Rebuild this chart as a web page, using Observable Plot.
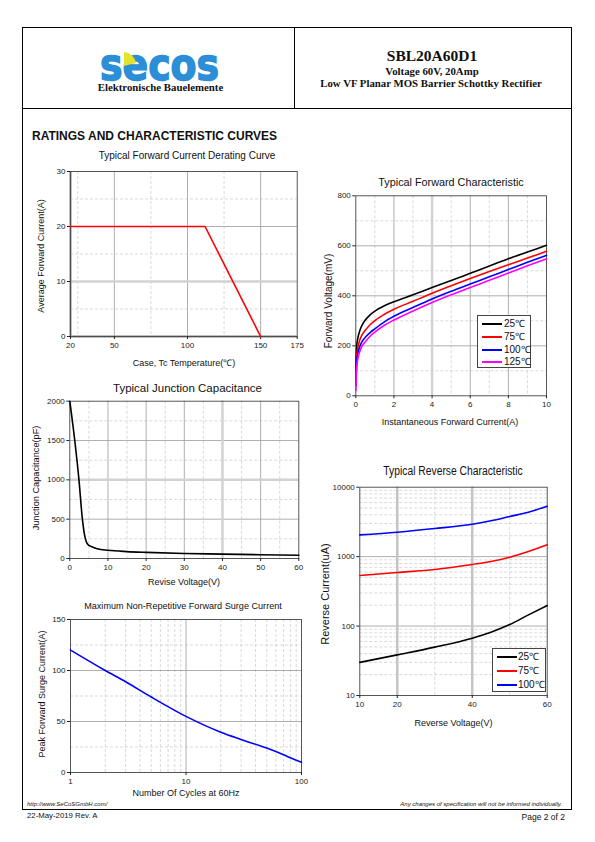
<!DOCTYPE html>
<html><head><meta charset="utf-8">
<script src="https://cdn.jsdelivr.net/npm/d3@7"></script>
<script src="https://cdn.jsdelivr.net/npm/@observablehq/plot@0.6"></script>
<style>
body{margin:0;background:#fff;}
#page{position:relative;width:595px;height:842px;overflow:hidden;font-family:"Liberation Sans",Arial,sans-serif;color:#111;}
.t{position:absolute;white-space:nowrap;line-height:1;}
.ln{position:absolute;background:#000;}
#logo{position:absolute;left:100px;top:52px;height:26px;line-height:26px;font-family:"DejaVu Sans";font-weight:bold;font-size:44px;color:#2b8ed6;-webkit-text-stroke:1.5px #2b8ed6;transform:scaleX(0.86);transform-origin:0 50%;white-space:nowrap;}
</style></head><body><div id="page"></div>
<script>
// ---------- data ----------
const deratingTemp = [20, 112, 150];
const deratingCurrent = [20, 20, 0];
const deratingXTicks = [20, 50, 100, 150, 175];
const deratingYTicks = [0, 10, 20, 30];

const fwdCurrent = [0.005,0.02,0.05,0.1,0.2,0.3,0.5,0.75,1,1.5,2,3,4,5,6,7,8,9,10];
const fwd25  = [105,150,200,228,258,278,303,324,339,360,376,404,433,461,490,519,548,575,602];
const fwd75  = [60,110,160,190,221,240,262,284,301,326,346,378,410,440,469,497,524,551,578];
const fwd100 = [40,85,135,165,195,213,234,253,268,296,318,353,387,418,447,476,505,534,562];
const fwd125 = [20,65,115,145,175,195,216,238,255,282,303,339,373,404,433,462,491,520,548];
const fwdLabels = ["25℃", "75℃", "100℃", "125℃"];
const fwdXTicks = [0, 2, 4, 6, 8, 10];
const fwdYTicks = [0, 200, 400, 600, 800];

const capVoltage = [0,1.3,2.4,3.3,3.9,4.3,4.7,5.4,7.2,10,15,20,30,40,50,60];
const capValue   = [2000,1500,1000,500,290,215,180,157,125,105,88,78,64,55,48,42];
const capXTicks = [0, 10, 20, 30, 40, 50, 60];
const capYTicks = [0, 500, 1000, 1500, 2000];

const revVoltage = [10,20,30,40,45,50,55,60];
const rev25  = [30,38.5,49.7,67,81.7,105,145,198];
const rev75  = [535,590,653,771,851,983,1186,1479];
const rev100 = [2060,2250,2540,2935,3280,3785,4370,5330];
const revLabels = ["25℃", "75℃", "100℃"];
const revXTicks = [10, 20, 40, 60];
const revYTicks = [10, 100, 1000, 10000];

const surgeCycles  = [1,2,3,5,10,20,30,50,70,80,90,100];
const surgeCurrent = [120,100,89,74,55,39.5,32.4,23.9,17.3,14.4,12,10];
const surgeXTicks = [1, 10, 100];
const surgeYTicks = [0, 50, 100, 150];

// ---------- helpers ----------
const page = document.getElementById("page");
const SANS = '"Liberation Sans", Arial, sans-serif';
const SERIF = '"Liberation Serif", "Times New Roman", serif';

function txt(s, x, y, o = {}) {
  const d = document.createElement("div");
  d.className = "t";
  d.textContent = s;
  d.style.left = x + "px"; d.style.top = y + "px";
  d.style.fontSize = (o.size || 9) + "px";
  d.style.fontFamily = o.family || SANS;
  if (o.weight) d.style.fontWeight = o.weight;
  if (o.italic) d.style.fontStyle = "italic";
  if (o.color) d.style.color = o.color;
  const ax = o.anchor === "start" ? "0" : o.anchor === "end" ? "-100%" : "-50%";
  if (o.anchor === "start") d.style.transformOrigin = "0 50%";
  if (o.anchor === "end") d.style.transformOrigin = "100% 50%";
  d.style.transform = `translate(${ax},-50%)` + (o.rotate ? ` rotate(${o.rotate}deg)` : "") + (o.sx ? ` scaleX(${o.sx})` : "");
  page.append(d);
  return d;
}
function line(x, y, w, h, color = "#000") {
  const d = document.createElement("div");
  d.className = "ln";
  Object.assign(d.style, {left: x + "px", top: y + "px", width: w + "px", height: h + "px", background: color});
  page.append(d);
}
function mount(svg, left, top) {
  svg.style.position = "absolute";
  svg.style.left = left + "px";
  svg.style.top = top + "px";
  page.append(svg);
}
function base(w, h, m) {
  return {width: w, height: h, marginLeft: m[0], marginRight: m[1], marginTop: m[2], marginBottom: m[3],
    style: {fontFamily: SANS, fontSize: "8px", color: "#222", background: "transparent", overflow: "visible"}};
}
function grid(xMajor, xMinor, yMajor, yMinor) {
  return [
    Plot.ruleX(xMinor, {stroke: "#c8c8c8", strokeWidth: 0.7, strokeDasharray: "3,2"}),
    Plot.ruleY(yMinor, {stroke: "#c8c8c8", strokeWidth: 0.7, strokeDasharray: "3,2"}),
    Plot.ruleX(xMajor, {stroke: "#9a9a9a", strokeWidth: 0.8}),
    Plot.ruleY(yMajor, {stroke: "#9a9a9a", strokeWidth: 0.8})
  ];
}
const fmt = d => String(d);
const axX = (ticks) => Plot.axisX({ticks, tickSize: 3, tickPadding: 3, label: null, tickFormat: fmt});
const axY = (ticks) => Plot.axisY({ticks, tickSize: 3, tickPadding: 2, label: null, tickFormat: fmt});
const heavy = "#d2d2d2";

// ---------- page frame & header ----------
line(22, 27, 550, 1);
line(22, 27, 1, 783);
line(571, 27, 1, 783);
line(22, 108, 550, 1);
line(294, 27, 1, 82);
line(22, 809, 550, 1.2);

const logoText = document.createElement("div");
logoText.id = "logo";
logoText.textContent = "secos";
page.append(logoText);
const wedge = document.createElementNS("http://www.w3.org/2000/svg", "svg");
wedge.setAttribute("width", 16); wedge.setAttribute("height", 16);
wedge.innerHTML = `<path d="M1,15 L1,1 A13,13 0 0 1 13,12 Z" fill="#e3e22c"/>`;
mount(wedge, 123, 51);

txt("Elektronische Bauelemente", 160.5, 86.5, {size: 10.8, weight: "bold", family: SERIF});
txt("SBL20A60D1", 432, 56, {size: 15.5, weight: "bold", family: SERIF});
txt("Voltage 60V, 20Amp", 432, 70.5, {size: 10.8, weight: "bold", family: SERIF});
txt("Low VF Planar MOS Barrier Schottky Rectifier", 431, 83, {size: 10.8, weight: "bold", family: SERIF});
txt("RATINGS AND CHARACTERISTIC CURVES", 32, 136, {size: 12, weight: "bold", anchor: "start"});

// ---------- chart 1: derating ----------
{
  const data = deratingTemp.map((t, i) => ({t, a: deratingCurrent[i]}));
  const p = Plot.plot({
    ...base(285, 210, [50, 8.3, 6, 39]),
    x: {domain: [20, 175]}, y: {domain: [0, 30]},
    marks: [
      ...grid([50, 100, 150], [25, 75, 125], [10, 20], [5, 15, 25]),
      Plot.ruleY([10], {stroke: heavy, strokeWidth: 2.5}),
      Plot.ruleY([0], {stroke: "#aaa", strokeWidth: 2.5}),
      Plot.ruleX([20], {stroke: "#aaa", strokeWidth: 2.5}),
      Plot.frame({stroke: "#444", strokeWidth: 0.9}),
      axX(deratingXTicks), axY(deratingYTicks),
      Plot.line(data, {x: "t", y: "a", stroke: "#ff0000", strokeWidth: 1.6})
    ]
  });
  mount(p, 20, 165);
  txt("Typical Forward Current Derating Curve", 187, 156, {size: 10});
  txt("Case, Tc Temperature(℃)", 184, 363, {size: 9});
  txt("Average Forward Current(A)", 40.7, 256, {size: 9, rotate: -90});
}

// ---------- chart 2: forward characteristic ----------
{
  const series = [fwd25, fwd75, fwd100, fwd125];
  const colors = ["#000000", "#ff0000", "#0000ff", "#ff00ff"];
  const p = Plot.plot({
    ...base(240, 225, [35.3, 14, 5.3, 19.7]),
    x: {domain: [0, 10]}, y: {domain: [0, 800]},
    marks: [
      ...grid([2, 4, 6, 8], [1, 3, 5, 7, 9], [200, 400, 600], [100, 300, 500, 700]),
      Plot.ruleX([4], {stroke: heavy, strokeWidth: 2.5}),
      Plot.frame({stroke: "#444", strokeWidth: 0.9}),
      axX(fwdXTicks), axY(fwdYTicks),
      ...series.map((s, k) => Plot.line(fwdCurrent.map((c, i) => ({c, v: s[i]})),
        {x: "c", y: "v", stroke: colors[k], strokeWidth: 1.6, curve: "monotone-x"}))
    ]
  });
  mount(p, 320, 190);
  txt("Typical Forward Characteristic", 451, 183, {size: 11.5, sx: 0.94});
  txt("Instantaneous Forward Current(A)", 450, 422, {size: 9});
  txt("Forward Voltage(mV)", 328.5, 301, {size: 10, rotate: -90});
  const box = document.createElement("div");
  Object.assign(box.style, {position: "absolute", left: "477px", top: "315px", width: "52px", height: "51px", border: "1px solid #444", background: "#fff"});
  page.append(box);
  fwdLabels.forEach((lab, k) => {
    const cy = 324 + k * 12.8;
    line(482, cy - 1, 20, 2, colors[k]);
    txt(lab, 504, cy, {size: 10, anchor: "start"});
  });
}

// ---------- chart 3: junction capacitance ----------
{
  const data = capVoltage.map((v, i) => ({v, c: capValue[i]}));
  const p = Plot.plot({
    ...base(285, 180, [44.3, 11.7, 5.7, 17]),
    x: {domain: [0, 60]}, y: {domain: [0, 2000]},
    marks: [
      ...grid([10, 20, 30, 40, 50], [5, 15, 25, 35, 45, 55], [500, 1000, 1500], [250, 750, 1250, 1750]),
      Plot.ruleY([1000], {stroke: heavy, strokeWidth: 2.5}),
      Plot.ruleX([40], {stroke: heavy, strokeWidth: 2.5}),
      Plot.frame({stroke: "#444", strokeWidth: 0.9}),
      axX(capXTicks), axY(capYTicks),
      Plot.line(data, {x: "v", y: "c", stroke: "#000", strokeWidth: 1.6, curve: "monotone-x"})
    ]
  });
  mount(p, 25, 395);
  txt("Typical Junction Capacitance", 187.5, 389, {size: 11.5});
  txt("Revise Voltage(V)", 184, 582, {size: 9});
  txt("Junction Capacitance(pF)", 37.3, 478, {size: 9.2, rotate: -90});
}

// ---------- chart 4: reverse characteristic ----------
{
  const series = [rev25, rev75, rev100];
  const colors = ["#000000", "#ff0000", "#0000ff"];
  const minorY = [20,30,40,50,60,70,80,90,200,300,400,500,600,700,800,900,2000,3000,4000,5000,6000,7000,8000,9000];
  const p = Plot.plot({
    ...base(240, 230, [39.3, 13.3, 6.7, 15]),
    x: {domain: [10, 60]}, y: {type: "log", domain: [10, 10000]},
    marks: [
      ...grid([20, 40], [30, 50], [100, 1000], minorY),
      Plot.ruleX([20, 40], {stroke: "#c4c4c4", strokeWidth: 2.5}),
      Plot.frame({stroke: "#444", strokeWidth: 0.9}),
      axX(revXTicks), axY(revYTicks),
      ...series.map((s, k) => Plot.line(revVoltage.map((v, i) => ({v, c: s[i]})),
        {x: "v", y: "c", stroke: colors[k], strokeWidth: 1.6, curve: "monotone-x"}))
    ]
  });
  mount(p, 320, 480);
  txt("Typical Reverse Characteristic", 453, 471, {size: 12, sx: 0.86});
  txt("Reverse Voltage(V)", 453.5, 723, {size: 9});
  txt("Reverse Current(uA)", 325, 594, {size: 11, rotate: -90});
  const box = document.createElement("div");
  Object.assign(box.style, {position: "absolute", left: "492px", top: "648px", width: "52px", height: "42px", border: "1px solid #444", background: "#fff"});
  page.append(box);
  revLabels.forEach((lab, k) => {
    const cy = 656.5 + k * 14;
    line(497, cy - 1, 20, 2, colors[k]);
    txt(lab, 518, cy, {size: 10, anchor: "start"});
  });
}

// ---------- chart 5: surge current ----------
{
  const data = surgeCycles.map((n, i) => ({n, a: surgeCurrent[i]}));
  const p = Plot.plot({
    ...base(285, 180, [45, 9, 5, 22]),
    x: {type: "log", domain: [1, 100]}, y: {domain: [0, 150]},
    marks: [
      ...grid([10], [2,3,4,5,6,7,8,9,20,30,40,50,60,70,80,90], [50, 100], [25, 75, 125]),
      Plot.frame({stroke: "#444", strokeWidth: 0.9}),
      axX(surgeXTicks), axY(surgeYTicks),
      Plot.line(data, {x: "n", y: "a", stroke: "#0000ff", strokeWidth: 1.6, curve: "monotone-x"})
    ]
  });
  mount(p, 25, 614);
  txt("Maximum Non-Repetitive Forward Surge Current", 183, 607, {size: 9.1});
  txt("Number Of Cycles at 60Hz", 186, 793, {size: 9});
  txt("Peak Forward Surge Current(A)", 42.3, 694, {size: 9, rotate: -90});
}

// ---------- footer ----------
txt("http://www.SeCoSGmbH.com/", 27, 804, {size: 6, italic: true, anchor: "start"});
txt("Any changes of specification will not be informed individually.", 562, 804, {size: 6, italic: true, anchor: "end"});
txt("22-May-2019 Rev. A", 27, 816, {size: 7.8, anchor: "start"});
txt("Page 2 of 2", 565, 816.5, {size: 8.5, anchor: "end"});
</script></body></html>
